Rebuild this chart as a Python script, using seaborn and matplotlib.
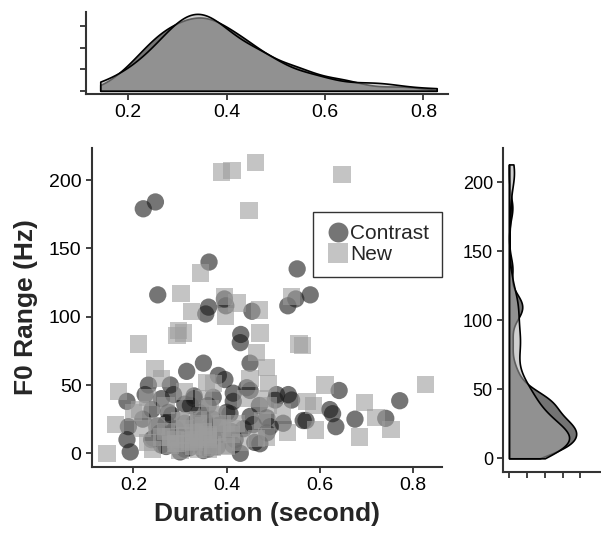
import numpy as np
import pandas as pd
import matplotlib
matplotlib.use("Agg")
import matplotlib.pyplot as plt
import seaborn as sns

# ---- data ----
contrast_dur = [0.221, 0.247, 0.362, 0.252, 0.361, 0.355, 0.395, 0.398, 0.454, 0.551,
                0.531, 0.548, 0.579, 0.430, 0.429,
                0.450, 0.350, 0.382, 0.396, 0.443, 0.507, 0.532, 0.414, 0.232, 0.279,
                0.314, 0.225, 0.186, 0.286, 0.322, 0.275, 0.371, 0.407, 0.450, 0.414,
                0.504, 0.539,
                0.641, 0.771, 0.621, 0.627, 0.570, 0.634, 0.675, 0.741, 0.564,
                0.189, 0.186, 0.239, 0.257, 0.371, 0.364, 0.418, 0.429, 0.193, 0.414,
                0.457, 0.486, 0.521, 0.493, 0.436, 0.386, 0.282, 0.332, 0.243, 0.471,
                0.486, 0.300, 0.340, 0.270, 0.460, 0.350, 0.310, 0.400, 0.470, 0.220,
                0.260, 0.450,
                0.25, 0.28, 0.30, 0.32, 0.33, 0.35, 0.37, 0.38, 0.31, 0.29, 0.34,
                0.36, 0.39, 0.27, 0.26, 0.33, 0.30, 0.37, 0.41, 0.24, 0.35, 0.32,
                0.31, 0.33, 0.34, 0.30, 0.36, 0.28]
contrast_f0 = [179, 184, 140, 116, 107, 102, 113, 108, 104, 135,
               108, 113, 116, 87, 81,
               66, 66, 57, 54, 48, 43, 43, 44, 50, 50,
               60, 43, 38, 43, 35, 30, 41, 29, 27, 38,
               39, 39,
               46, 38.5, 32, 29, 24, 19.5, 25, 25.6, 24,
               19.5, 10, 10, 15, 12, 19.5, 10, 0, 1, 6,
               21, 26, 22, 19.5, 18, 21, 28, 18, 11, 7,
               15, 12, 8, 5, 8, 25, 22, 30, 35, 25,
               40, 46,
               20, 15, 8, 10, 22, 15, 12, 5, 3, 18, 12,
               35, 14, 22, 6, 40, 8, 25, 16, 32, 2, 4,
               36, 42, 30, 1, 3, 14]

new_dur = [0.388, 0.411, 0.461, 0.647, 0.448, 0.343, 0.302, 0.395, 0.422, 0.325,
           0.397, 0.470, 0.539, 0.296, 0.471, 0.563, 0.555, 0.486, 0.489, 0.464,
           0.357, 0.211, 0.246, 0.168, 0.293, 0.307,
           0.611, 0.827, 0.586, 0.696, 0.720, 0.591, 0.684, 0.752, 0.572,
           0.143, 0.161, 0.214, 0.300, 0.293, 0.329, 0.371, 0.464, 0.486, 0.364,
           0.250, 0.270, 0.330, 0.380, 0.420, 0.440, 0.350, 0.400, 0.230, 0.520,
           0.310, 0.450, 0.490, 0.530, 0.260, 0.230, 0.200, 0.476, 0.476, 0.340,
           0.280, 0.410, 0.360,
           0.26, 0.28, 0.31, 0.33, 0.35, 0.36, 0.38, 0.30, 0.32, 0.34, 0.29,
           0.37, 0.39, 0.27, 0.24, 0.41, 0.43, 0.22, 0.34, 0.31, 0.36, 0.40,
           0.33, 0.35, 0.37, 0.31, 0.39, 0.29, 0.36, 0.34]
new_f0 = [206, 207, 213, 204, 178, 132, 117, 115, 110, 104,
          100, 105, 115, 90, 88, 79, 80, 63, 51, 74,
          52, 80, 62, 45, 86, 88,
          50, 50.5, 35, 37, 26, 17, 12, 17.5, 38,
          0, 21, 32, 24, 7, 5, 51, 11, 12, 33,
          20, 35, 15, 28, 22, 40, 40, 5, 8, 30,
          45, 55, 35, 15, 55, 41, 30, 40, 24, 25,
          12, 18, 3,
          12, 6, 18, 8, 20, 14, 15, 2, 9, 22, 10,
          4, 22, 16, 3, 14, 8, 18, 12, 24, 10, 6,
          10, 16, 6, 13, 19, 7, 12, 3]

groups = ["Contrast", "New"]

df = pd.DataFrame({
    "Duration": contrast_dur + new_dur,
    "F0": contrast_f0 + new_f0,
    "Type": ["Contrast"] * len(contrast_dur) + ["New"] * len(new_dur),
})

sns.set_style("ticks")
plt.rcParams["font.family"] = ["Liberation Sans", "DejaVu Sans"]

fig = plt.figure(figsize=(6.01, 5.36), dpi=100)
W, H = 601, 536

def ax_px(l, r, t, b):
    return fig.add_axes([l / W, 1 - b / H, (r - l) / W, (b - t) / H])

ax = ax_px(92, 441.7, 148, 466.7)
ax_top = ax_px(86, 448, 12, 94)
ax_right = ax_px(503.3, 600, 148, 471.7)

axis_col = "#333333"

# ---- main scatter ----
sns.scatterplot(data=df, x="Duration", y="F0", hue="Type", style="Type",
                hue_order=groups, style_order=groups,
                palette={"Contrast": "#1a1a1a", "New": "#9d9d9d"},
                markers={"Contrast": "o", "New": "s"},
                s=155, alpha=0.6, linewidth=0, ax=ax)
ax.set_xlim(0.111, 0.861)
ax.set_ylim(-9.8, 223.5)
ax.set_xticks([0.2, 0.4, 0.6, 0.8])
ax.set_xticklabels(["0.2", "0.4", "0.6", "0.8"])
ax.set_yticks([0, 50, 100, 150, 200])
ax.set_xlabel("Duration (second)", fontsize=19, fontweight="bold", labelpad=6)
ax.set_ylabel("F0 Range (Hz)", fontsize=19, fontweight="bold", labelpad=8)
ax.tick_params(labelsize=14, direction="out", length=4, width=1.3, colors=axis_col,
               labelcolor="black")
leg = ax.legend(loc="upper right", bbox_to_anchor=(1.0, 0.80), borderaxespad=0,
                fontsize=15, frameon=True, fancybox=False, handletextpad=0.0,
                handlelength=1.2, borderpad=0.6, labelspacing=0.1,
                markerscale=1.15)
leg.get_frame().set_edgecolor("black")
leg.get_frame().set_linewidth(1.0)


def nrd0_adjust(v):
    # ratio of R's bw.nrd0 to scipy's Scott bandwidth
    v = np.asarray(v, float)
    sd = v.std(ddof=1)
    iqr = np.subtract(*np.percentile(v, [75, 25]))
    return 0.9 * min(sd, iqr / 1.34) / sd


fill_cols = {"Contrast": "#000000", "New": "#aaaaaa"}
all_dur = contrast_dur + new_dur
all_f0 = contrast_f0 + new_f0

# ---- top marginal density ----
for g, xs in [("Contrast", contrast_dur), ("New", new_dur)]:
    sns.kdeplot(x=xs, ax=ax_top, fill=True, cut=10, clip=(min(all_dur), max(all_dur)),
                bw_adjust=nrd0_adjust(xs), color=fill_cols[g], alpha=0.55,
                edgecolor="black", linewidth=1.2)
ax_top.set_xlim(0.114, 0.85)
ax_top.set_ylim(-0.15, 3.66)
ax_top.set_xticks([0.2, 0.4, 0.6, 0.8])
ax_top.set_xticklabels(["0.2", "0.4", "0.6", "0.8"])
ax_top.set_yticks([0, 1, 2, 3])
ax_top.set_yticklabels([])
ax_top.set_xlabel("")
ax_top.set_ylabel("")
ax_top.tick_params(labelsize=14, direction="out", length=4, width=1.3, colors=axis_col,
                   labelcolor="black")

# ---- right marginal density ----
for g, ys in [("Contrast", contrast_f0), ("New", new_f0)]:
    sns.kdeplot(y=ys, ax=ax_right, fill=True, cut=10, clip=(min(all_f0), max(all_f0)),
                bw_adjust=nrd0_adjust(ys), color=fill_cols[g], alpha=0.55,
                edgecolor="black", linewidth=1.2)
ax_right.set_ylim(-9.7, 224.9)
ax_right.set_yticks([0, 50, 100, 150, 200])
ax_right.set_xlim(-0.0016, 0.0255)
ax_right.set_xticks([0, 0.005, 0.01, 0.015, 0.02])
ax_right.set_xticklabels([])
ax_right.set_xlabel("")
ax_right.set_ylabel("")
ax_right.tick_params(labelsize=13, direction="out", length=4, width=1.3, colors=axis_col,
                     labelcolor="black")

for a in (ax, ax_top, ax_right):
    sns.despine(ax=a)
    for sp in ("left", "bottom"):
        a.spines[sp].set_linewidth(1.5)
        a.spines[sp].set_color(axis_col)

fig.savefig("out.png", dpi=100)
